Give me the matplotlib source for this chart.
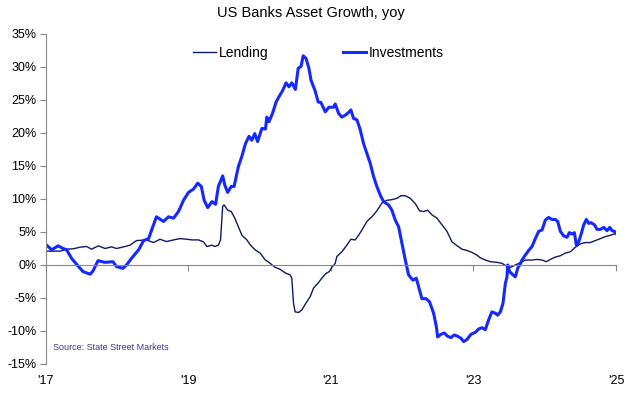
import matplotlib
matplotlib.use("Agg")
import matplotlib.pyplot as plt

plt.rcParams['font.family'] = ['Liberation Sans', 'DejaVu Sans']

# Data (decimal year, yoy growth in %)
lend_t = [2017.01, 2017.20, 2017.29, 2017.38, 2017.48, 2017.57, 2017.64, 2017.735, 2017.83, 2017.92,
          2017.99, 2018.09, 2018.18, 2018.27, 2018.41, 2018.51, 2018.60, 2018.69, 2018.79, 2018.88,
          2018.98, 2019.05, 2019.14, 2019.21, 2019.26, 2019.33, 2019.37, 2019.42, 2019.45, 2019.48,
          2019.50, 2019.55, 2019.60, 2019.65, 2019.70, 2019.75, 2019.82, 2019.87, 2019.935, 2020.005,
          2020.075, 2020.146, 2020.216, 2020.286, 2020.357, 2020.427, 2020.45, 2020.474, 2020.497, 2020.544,
          2020.591, 2020.647, 2020.708, 2020.755, 2020.815, 2020.871, 2020.928, 2020.975, 2021.012, 2021.059,
          2021.083, 2021.153, 2021.223, 2021.279, 2021.34, 2021.387, 2021.434, 2021.504, 2021.574, 2021.644,
          2021.715, 2021.785, 2021.855, 2021.925, 2021.982, 2022.042, 2022.113, 2022.183, 2022.244, 2022.30,
          2022.356, 2022.417, 2022.487, 2022.557, 2022.628, 2022.698, 2022.759, 2022.838, 2022.908, 2022.979,
          2023.049, 2023.095, 2023.166, 2023.236, 2023.33, 2023.40, 2023.461, 2023.526, 2023.587, 2023.657,
          2023.727, 2023.821, 2023.891, 2023.962, 2024.022, 2024.079, 2024.149, 2024.219, 2024.289, 2024.359,
          2024.43, 2024.50, 2024.57, 2024.64, 2024.711, 2024.781, 2024.851, 2024.921, 2025.0]
lend_v = [2.1, 2.1, 2.4, 2.45, 2.7, 2.8, 2.4, 2.9, 2.5, 2.75,
          2.5, 2.75, 3.0, 3.7, 3.8, 3.4, 3.9, 3.55, 3.8, 4.0,
          3.9, 3.8, 3.8, 3.5, 2.8, 3.0, 2.8, 3.0, 3.8, 8.9,
          9.1, 8.3, 8.1, 7.1, 5.8, 4.5, 3.8, 3.0, 2.3, 1.8,
          0.8, 0.25, -0.35, -0.65, -1.2, -1.5, -2.0, -5.8, -7.1, -7.2,
          -6.8, -5.8, -4.8, -3.5, -2.8, -2.0, -1.3, -1.0, -0.35, 0.25,
          1.3, 2.0, 3.0, 3.9, 3.8, 4.5, 5.3, 6.6, 7.3, 8.2,
          9.4, 9.8, 9.9, 10.1, 10.5, 10.5, 10.1, 9.3, 8.2, 8.1,
          8.3, 7.6, 7.1, 6.1, 5.1, 3.5, 3.0, 2.4, 2.2, 1.9,
          1.5, 1.1, 0.75, 0.5, 0.4, 0.25, -0.15, -0.35, 0.0, 0.35,
          0.75, 0.75, 0.85, 0.75, 0.5, 0.85, 1.2, 1.4, 1.8, 2.0,
          2.7, 3.2, 3.4, 3.4, 3.7, 4.0, 4.3, 4.5, 4.8]

inv_t = [2017.01, 2017.08, 2017.17, 2017.24, 2017.29, 2017.36, 2017.45, 2017.52, 2017.62, 2017.66,
         2017.73, 2017.83, 2017.94, 2017.99, 2018.08, 2018.13, 2018.20, 2018.30, 2018.37, 2018.44,
         2018.55, 2018.65, 2018.72, 2018.79, 2018.86, 2018.93, 2019.00, 2019.07, 2019.13, 2019.18,
         2019.22, 2019.27, 2019.33, 2019.38, 2019.42, 2019.48, 2019.51, 2019.55, 2019.60, 2019.64,
         2019.70, 2019.75, 2019.80, 2019.85, 2019.89, 2019.93, 2019.97, 2020.03, 2020.08, 2020.10,
         2020.13, 2020.18, 2020.23, 2020.27, 2020.32, 2020.37, 2020.41, 2020.45, 2020.50, 2020.54,
         2020.58, 2020.61, 2020.65, 2020.69, 2020.72, 2020.78, 2020.82, 2020.86, 2020.92, 2020.97,
         2021.036, 2021.059, 2021.106, 2021.153, 2021.20, 2021.246, 2021.279, 2021.317, 2021.364, 2021.41,
         2021.457, 2021.504, 2021.551, 2021.598, 2021.644, 2021.691, 2021.738, 2021.808, 2021.855, 2021.902,
         2021.949, 2021.996, 2022.042, 2022.089, 2022.15, 2022.197, 2022.23, 2022.276, 2022.337, 2022.384,
         2022.44, 2022.478, 2022.497, 2022.543, 2022.59, 2022.637, 2022.684, 2022.731, 2022.777, 2022.824,
         2022.862, 2022.908, 2022.965, 2023.026, 2023.072, 2023.119, 2023.166, 2023.213, 2023.259, 2023.306,
         2023.339, 2023.377, 2023.414, 2023.447, 2023.47, 2023.48, 2023.507, 2023.554, 2023.587, 2023.62,
         2023.648, 2023.681, 2023.727, 2023.774, 2023.821, 2023.868, 2023.915, 2023.962, 2024.008, 2024.055,
         2024.102, 2024.149, 2024.182, 2024.219, 2024.266, 2024.313, 2024.345, 2024.383, 2024.416, 2024.444,
         2024.477, 2024.514, 2024.547, 2024.584, 2024.617, 2024.65, 2024.697, 2024.734, 2024.781, 2024.828,
         2024.875, 2024.912, 2024.945, 2024.978, 2025.0]
inv_v = [3.0, 2.3, 2.9, 2.5, 2.3, 1.0, -0.15, -1.0, -1.4, -0.9,
         0.65, 0.4, 0.5, -0.25, -0.5, 0.0, 1.0, 2.3, 3.7, 4.0,
         7.3, 6.6, 7.3, 7.1, 8.1, 9.8, 11.0, 11.5, 12.4, 11.9,
         9.8, 8.7, 9.6, 9.2, 11.9, 13.5, 12.1, 11.0, 11.9, 11.9,
         14.9, 16.5, 18.4, 19.5, 18.9, 19.9, 18.7, 20.7, 20.6, 22.4,
         21.7, 23.0, 24.7, 25.5, 26.4, 27.6, 27.0, 27.6, 26.6, 29.8,
         30.1, 31.7, 31.3, 29.8, 28.0, 26.3, 24.7, 24.6, 23.2, 23.9,
         23.9, 24.4, 23.0, 22.4, 22.7, 23.1, 23.5, 22.2, 22.0, 20.5,
         18.4, 16.9, 15.4, 13.4, 11.9, 10.6, 9.6, 9.1, 8.3, 6.8,
         5.8, 3.3, 0.8, -1.5, -2.3, -2.0, -3.3, -5.1, -5.1, -5.6,
         -7.3, -9.3, -10.9, -10.5, -10.3, -10.8, -11.0, -10.6, -10.8, -11.1,
         -11.6, -11.3, -10.5, -10.2, -9.7, -9.5, -9.8, -8.3, -7.1, -7.3,
         -7.6, -7.1, -5.8, -2.8, -1.8, 0.0, -1.0, -1.5, -1.8, -0.5,
         0.0, 0.75, 1.5, 2.2, 2.8, 4.0, 5.1, 5.3, 6.8, 7.2,
         6.9, 6.9, 6.6, 5.1, 4.4, 4.2, 4.9, 4.7, 4.9, 3.0,
         3.5, 4.8, 6.1, 6.9, 6.3, 6.4, 6.1, 5.4, 5.4, 5.7,
         5.2, 5.7, 5.2, 5.1, 4.8]

y_ticks = [-15, -10, -5, 0, 5, 10, 15, 20, 25, 30, 35]
x_ticks = [2017, 2019, 2021, 2023, 2025]
x_labels = ["'17", "'19", "'21", "'23", "'25"]

fig = plt.figure(figsize=(6.43, 3.93), dpi=100)
ax = fig.add_axes([0.0715, 0.0738, 0.8865, 0.8397])

ax.plot(lend_t, lend_v, color='#0d1a66', lw=1.0, label='Lending')
ax.plot(inv_t, inv_v, color='#1428ff', lw=2.2, label='Investments')

ax.set_xlim(2017, 2025)
ax.set_ylim(-15, 35)

for s in ['top', 'right']:
    ax.spines[s].set_visible(False)
ax.spines['left'].set_color('#888888')
ax.spines['bottom'].set_color('#888888')
ax.spines['bottom'].set_position(('data', 0))

ax.set_yticks(y_ticks)
ax.set_yticklabels([f"{v}%" for v in y_ticks])
ax.tick_params(axis='y', direction='out', length=4, color='#888888', labelsize=9, pad=3)
ax.set_xticks(x_ticks)
ax.tick_params(axis='x', direction='out', length=4, color='#888888', labelbottom=False)

# year labels sit under the plot, while the x axis line runs through zero
sec = ax.secondary_xaxis('bottom')
sec.set_xticks(x_ticks, x_labels)
sec.tick_params(length=0, labelsize=9, pad=8)
sec.spines['bottom'].set_visible(False)

ax.legend(loc='center', bbox_to_anchor=(0.478, 0.942), ncol=2, frameon=False,
          fontsize=10, handlelength=1.65, handletextpad=0.2, columnspacing=5.4)

ax.text(0.013, 0.049, 'Source: State Street Markets', transform=ax.transAxes,
        fontsize=6.45, color='#3a3a8c', va='center', ha='left')

fig.text(0.483, 1 - 13 / 393, 'US Banks Asset Growth, yoy', ha='center', va='center', fontsize=10.5)

fig.savefig('out.png', dpi=100)
